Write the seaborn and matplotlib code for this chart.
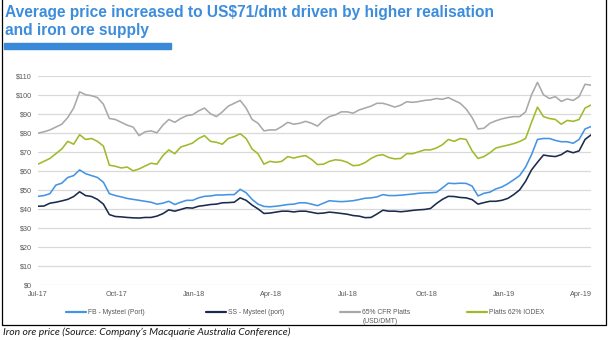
import matplotlib
matplotlib.use("Agg")
import matplotlib.pyplot as plt
import matplotlib.dates as mdates
from matplotlib.patches import Rectangle
from matplotlib.lines import Line2D
import numpy as np
import pandas as pd
import seaborn as sns

# Weekly observations, Jul-2017 to mid Apr-2019 (US$/dmt)
dates = pd.date_range("2017-07-01", periods=94, freq="7D")

fb_mysteel_port = [
    46.6, 47, 48, 52.5, 53.5, 56.5, 57.5, 60.5, 58.5, 57.5,
    56.5, 54, 48, 47, 46.3, 45.5, 45, 44.5, 44, 43.5,
    42.5, 43, 44, 42.3, 43.5, 44.5, 44.5, 45.8, 46.6, 46.8,
    47.3, 47.3, 47.5, 47.5, 50.3, 48.5, 45, 42.5, 41.3, 41.1,
    41.4, 41.8, 42.3, 42.5, 43.2, 43.2, 42.5, 41.7, 43, 44.3,
    44, 43.8, 44, 44.3, 44.9, 45.6, 45.8, 46.3, 47.5, 47,
    47, 47.2, 47.5, 47.8, 48.2, 48.4, 48.5, 48.7, 51, 53.5,
    53.3, 53.5, 53.4, 52, 46.8, 48.2, 48.8, 50.5, 51.5, 53.2,
    55.3, 57.5, 62, 68.5, 76.5, 77, 77, 76, 75.3, 75.3,
    74.5, 76.5, 82, 83.3,
]

ss_mysteel_port = [
    41.4, 41.5, 43, 43.5, 44.2, 45, 46.5, 49, 47, 46.5,
    45, 42.5, 37, 36, 35.8, 35.5, 35.3, 35.2, 35.5, 35.5,
    36.2, 37.5, 39.5, 38.8, 39.7, 40.6, 40.4, 41.4, 41.8, 42.3,
    42.5, 43.2, 43.3, 43.5, 45.8, 44.5, 42, 40, 37.6, 37.8,
    38.3, 38.8, 38.8, 38.4, 38.8, 38.8, 38.2, 37.6, 37.8, 38.3,
    38, 37.6, 37.2, 36.5, 36.2, 35.4, 35.5, 37.3, 39.3, 38.8,
    38.8, 38.5, 38.8, 39.2, 39.5, 39.7, 40.2, 42.8, 45, 46.6,
    46.5, 46, 45.8, 44.9, 42.5, 43.3, 44, 44, 44.5, 45.5,
    47.5, 50, 54.5, 60.5, 64.5, 68.3, 67.8, 67.5, 68.5, 70.5,
    69.5, 70.5, 76.5, 78.9,
]

cfr_65_platts = [
    79.8, 80.5, 81.5, 83, 84.5, 88, 93, 101.5, 100, 99.5,
    98.5, 95, 87.5, 87, 85.5, 84, 83, 78.5, 80.5, 81,
    80, 84, 87, 85.5, 87.5, 89, 89.5, 91.5, 93, 90,
    88.5, 91, 94, 95.5, 97, 93, 87, 85, 81, 81.5,
    81.5, 83.3, 85.5, 84.5, 85, 86, 85, 83.5, 86.5, 88.5,
    89.4, 91, 91, 90.3, 92, 93, 94, 95.5, 95.5, 94.6,
    93.5, 94.5, 96.3, 96, 96.4, 97, 97.3, 98, 97.6, 98.5,
    97, 95.5, 92.5, 88, 82, 82.4, 85, 86.3, 87.3, 88,
    88.5, 88.5, 91, 100, 106.5, 100, 98, 99, 96.5, 97.8,
    97, 99, 105.5, 105,
]

platts_62_iodex = [
    63.5, 65, 66.5, 69, 71.5, 75.5, 74, 79, 76.5, 77,
    75.5, 73, 63, 62.4, 61.5, 62, 60, 61, 62.5, 64,
    63.5, 68, 71, 69, 72.5, 73.5, 74.6, 77, 78.5, 75.5,
    75, 74, 77, 78, 79.5, 77, 71.5, 69, 63.5, 65,
    64.5, 65, 67.5, 66.7, 67.5, 68, 66, 63.3, 63.5, 65,
    65.8, 65.5, 64.5, 62.7, 63, 64.3, 66.5, 68, 68.5, 67,
    66.3, 66.5, 69, 69, 70, 71, 71, 72, 73.7, 76.5,
    75.5, 77, 76.5, 70.5, 66.5, 67.5, 69.5, 72, 72.8, 73.5,
    74.3, 75.4, 77, 85.5, 93.5, 88.5, 87.5, 87, 84.5, 86.5,
    86, 87, 93, 94.6,
]

series_names = ["FB - Mysteel (Port)", "SS - Mysteel (port)",
                "65% CFR Platts", "Platts 62% IODEX"]
legend_labels = ["FB - Mysteel (Port)", "SS - Mysteel (port)",
                 "65% CFR Platts", "Platts 62% IODEX"]
y_ticks = [0, 10, 20, 30, 40, 50, 60, 70, 80, 90, 100, 110]

colors = {
    "FB - Mysteel (Port)": "#4494e4",
    "SS - Mysteel (port)": "#1b2b4d",
    "65% CFR Platts": "#a7aaa9",
    "Platts 62% IODEX": "#9dbb2a",
}

df = pd.DataFrame({
    "date": dates,
    series_names[0]: fb_mysteel_port,
    series_names[1]: ss_mysteel_port,
    series_names[2]: cfr_65_platts,
    series_names[3]: platts_62_iodex,
}).melt(id_vars="date", var_name="series", value_name="price")

sns.set_theme(style="white")
plt.rcParams["font.family"] = ["Liberation Sans", "DejaVu Sans"]

W, H = 616, 340
fig = plt.figure(figsize=(W / 100, H / 100), dpi=100)
fig.patch.set_facecolor("white")

ax = fig.add_axes([38 / W, 1 - 285 / H, (591 - 38) / W, (285 - 75.7) / H])
sns.lineplot(data=df, x="date", y="price", hue="series", hue_order=series_names,
             palette=colors, linewidth=1.15, ax=ax, legend=False)

ax.set_ylim(0, 110)
ax.set_xlim(pd.Timestamp("2017-07-01"), pd.Timestamp("2019-04-13"))
ax.set_yticks(y_ticks)
ax.set_yticklabels([f"${v}" for v in y_ticks])
ax.xaxis.set_major_locator(mdates.MonthLocator(bymonth=[1, 4, 7, 10]))
ax.xaxis.set_major_formatter(mdates.DateFormatter("%b-%y"))
ax.set_xlabel("")
ax.set_ylabel("")
ax.grid(axis="y", color="#d9d9d9", linewidth=0.9)
ax.grid(axis="x", visible=False)
ax.set_axisbelow(True)
for s in ax.spines.values():
    s.set_visible(False)
ax.tick_params(axis="both", length=0, labelsize=5.2, labelcolor="#595959")
ax.tick_params(axis="y", pad=4.5)
ax.tick_params(axis="x", pad=4)

# Legend row along the bottom of the panel
leg_x = [66, 206, 340, 467]
leg_y = 1 - 312.5 / H
for name, lab, x0 in zip(series_names, legend_labels, leg_x):
    h = Line2D([], [], color=colors[name], linewidth=1.6)
    lg = fig.legend([h], [lab], loc="center left", bbox_to_anchor=(x0 / W, leg_y),
                    frameon=False, fontsize=4.9, handlelength=3.0,
                    handletextpad=0.25, borderpad=0, borderaxespad=0)
    for t in lg.get_texts():
        t.set_color("#595959")
fig.text((340 + 22.5) / W, 1 - 321.5 / H, "(USD/DMT)", fontsize=4.9,
         color="#595959", va="center", ha="left")

# Heading, underline bar and frame
title_blue = "#3d8ddc"
fig.text(5 / W, 1 - 12 / H,
         "Average price increased to US$71/dmt driven by higher realisation",
         fontsize=11.2, fontweight="bold", color=title_blue, va="center", ha="left")
fig.text(5 / W, 1 - 30.5 / H, "and iron ore supply",
         fontsize=11.2, fontweight="bold", color=title_blue, va="center", ha="left")
fig.patches.append(Rectangle((4 / W, 1 - 49 / H), (171 - 4) / W, 6 / H,
                             transform=fig.transFigure, color="#3a89d8", zorder=3))
fig.patches.append(Rectangle((2 / W, 1 - 325 / H), (606 - 2) / W, 325 / H + 0.05,
                             transform=fig.transFigure, fill=False,
                             edgecolor="black", linewidth=0.9, zorder=3))

fig.text(3 / W, 1 - 332.5 / H,
         "Iron ore price (Source: Company\u2019s Macquarie Australia Conference)",
         fontsize=7.5, style="italic", family=["Lato", "DejaVu Sans"],
         color="#1a1a1a", va="center", ha="left")

fig.savefig("out.png", dpi=100)
